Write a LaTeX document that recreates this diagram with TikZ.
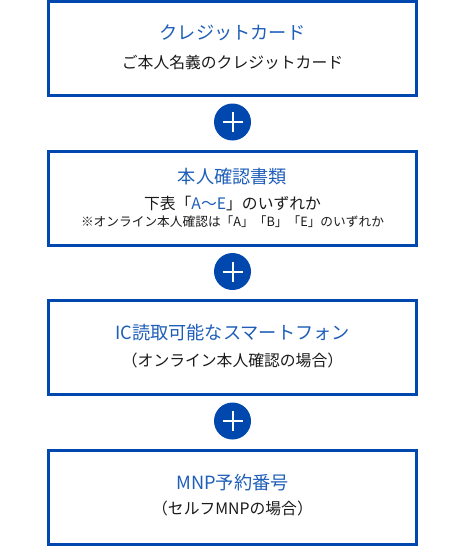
\documentclass[tikz,border=0pt]{standalone}
\usepackage{fontspec}
\setmainfont{Noto Sans CJK JP}
\definecolor{bord}{HTML}{0048AE}
\definecolor{ttl}{HTML}{1E5EB8}
\definecolor{txt}{HTML}{1A1A1A}
\begin{document}
\begin{tikzpicture}[x=1pt,y=-1pt,
  card/.style={draw=bord,line width=3pt,minimum width=368pt,minimum height=94pt,inner sep=0pt},
  ttlfont/.style={text=ttl,font=\fontsize{18.2}{21}\selectfont,inner sep=0pt},
  subfont/.style={text=txt,font=\fontsize{15.8}{18}\selectfont,inner sep=0pt},
  smallfont/.style={text=txt,font=\fontsize{12.7}{14}\selectfont,inner sep=0pt},
  plus/.style={circle,fill=bord,minimum size=37pt,inner sep=0pt}]
\useasboundingbox (0,0) rectangle (465,554);
\node[card] (b1) at (232.5,48.5) {};
\node[card] (b2) at (232.5,198.5) {};
\node[card] (b3) at (232.5,347.5) {};
\node[card] (b4) at (232.5,497.5) {};
\foreach \n/\y in {p1/122,p2/271.5,p3/421}{
  \node[plus] (\n) at (232.5,\y) {};
  \draw[white,line width=2pt] ([xshift=-10pt]\n.center) -- ([xshift=10pt]\n.center);
  \draw[white,line width=2pt] ([yshift=-10pt]\n.center) -- ([yshift=10pt]\n.center);
}
\node[ttlfont] (t1) at (232.5,33) {クレジットカード};
\node[subfont] (s1) at (232.5,62) {ご本人名義のクレジットカード};
\node[ttlfont] (t2) at (232.5,177) {本人確認書類};
\node[subfont] (s2) at (232.5,203) {下表「\textcolor{ttl}{A〜E}」のいずれか};
\node[smallfont] (u2) at (232.5,222) {※オンライン本人確認は「A」「B」「E」のいずれか};
\node[ttlfont] (t3) at (232.5,333) {IC読取可能なスマートフォン};
\node[subfont] (s3) at (232.5,360) {（オンライン本人確認の場合）};
\node[ttlfont] (t4) at (232.5,483) {MNP予約番号};
\node[subfont] (s4) at (232.5,508.5) {（セルフMNPの場合）};
\end{tikzpicture}
\end{document}
